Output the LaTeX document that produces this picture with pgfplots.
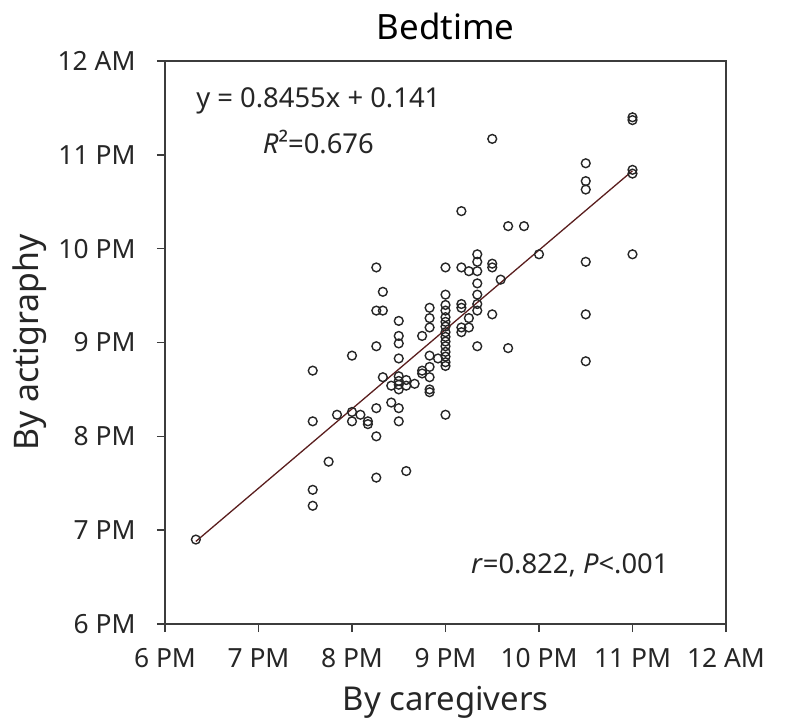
\documentclass[border=0pt]{standalone}
\usepackage{pgfplots}
\usepackage{pgfplotstable}
\pgfplotsset{compat=1.18}
\usepackage{fontspec}
\setmainfont{Noto Sans}
\definecolor{fitcol}{RGB}{90,30,30}
\definecolor{framecol}{RGB}{60,60,60}

\pgfplotstableread{
x y
18.33 18.90
19.58 20.70
19.58 20.16
19.58 19.43
19.58 19.26
19.75 19.73
19.84 20.23
20.00 20.86
20.00 20.26
20.00 20.16
20.09 20.23
20.17 20.16
20.17 20.13
20.26 21.80
20.26 21.34
20.26 20.96
20.26 20.30
20.26 20.00
20.26 19.56
20.33 21.54
20.33 21.34
20.33 20.63
20.42 20.54
20.42 20.36
20.50 21.23
20.50 21.07
20.50 20.99
20.50 20.83
20.50 20.64
20.50 20.59
20.50 20.55
20.50 20.50
20.50 20.30
20.50 20.16
20.58 20.60
20.58 20.54
20.58 19.63
20.67 20.56
20.75 21.07
20.75 20.70
20.75 20.67
20.83 21.37
20.83 21.26
20.83 21.16
20.83 20.86
20.83 20.74
20.83 20.63
20.83 20.50
20.83 20.47
20.92 20.83
21.00 21.80
21.00 21.51
21.00 21.40
21.00 21.34
21.00 21.27
21.00 21.22
21.00 21.17
21.00 21.11
21.00 21.06
21.00 21.01
21.00 20.96
21.00 20.90
21.00 20.85
21.00 20.79
21.00 20.75
21.00 20.23
21.17 22.40
21.17 21.80
21.17 21.41
21.17 21.37
21.17 21.16
21.17 21.11
21.25 21.76
21.25 21.26
21.25 21.16
21.34 21.94
21.34 21.86
21.34 21.76
21.34 21.63
21.34 21.51
21.34 21.41
21.34 21.34
21.34 20.96
21.50 23.17
21.50 21.84
21.50 21.80
21.50 21.30
21.59 21.67
21.67 22.24
21.67 20.94
21.84 22.24
22.00 21.94
22.50 22.91
22.50 22.72
22.50 22.63
22.50 21.86
22.50 21.30
22.50 20.80
23.00 23.40
23.00 23.37
23.00 22.84
23.00 22.80
23.00 21.94
}\bedtime

\begin{document}
\begin{tikzpicture}
\path[use as bounding box] (-165bp,-96bp) rectangle (620bp,624bp);
\begin{axis}[
  at={(0,0)}, anchor=south west,
  scale only axis, width=561bp, height=563bp,
  xmin=18, xmax=24, ymin=18, ymax=24,
  xtick={18,19,20,21,22,23,24},
  ytick={18,19,20,21,22,23,24},
  xticklabels={6 PM,7 PM,8 PM,9 PM,10 PM,11 PM,12 AM},
  yticklabels={6 PM,7 PM,8 PM,9 PM,10 PM,11 PM,12 AM},
  tick align=outside, tick pos=left,
  major tick length=8bp,
  axis line style={draw=framecol, line width=1.4bp},
  every tick/.style={draw=framecol, line width=1.4bp},
  ticklabel style={font=\fontsize{26.5}{29}\selectfont, text=black!85},
  xticklabel style={yshift=-13bp},
  yticklabel style={xshift=-18bp},
  title={Bedtime},
  title style={font=\fontsize{35}{38}\selectfont, yshift=12bp},
  xlabel={By caregivers},
  ylabel={By actigraphy},
  label style={font=\fontsize{33}{36}\selectfont, text=black!85},
  xlabel style={inner sep=0.5bp, yshift=-14bp},
  ylabel style={font=\fontsize{34}{37}\selectfont, yshift=4bp},
  clip=false,
]
\addplot[fitcol, line width=1.3bp, forget plot] coordinates {(18.33,18.88) (23.0,22.83)};
\addplot[only marks, mark=o, mark size=4.4bp, mark options={draw=black!85, line width=1.4bp}] table[x=x,y=y] {\bedtime};
\node[font=\fontsize{27.5}{30}\selectfont, text=black!85] at (axis cs:19.64,23.57) {y = 0.8455x + 0.141};
\node[font=\fontsize{27.5}{30}\selectfont, text=black!85] at (axis cs:19.64,23.14) {\textit{R}²=0.676};
\node[font=\fontsize{27.5}{30}\selectfont, text=black!85] at (axis cs:22.33,18.62) {\textit{r}=0.822,\ \textit{P}<.001};
\end{axis}
\end{tikzpicture}
\end{document}
